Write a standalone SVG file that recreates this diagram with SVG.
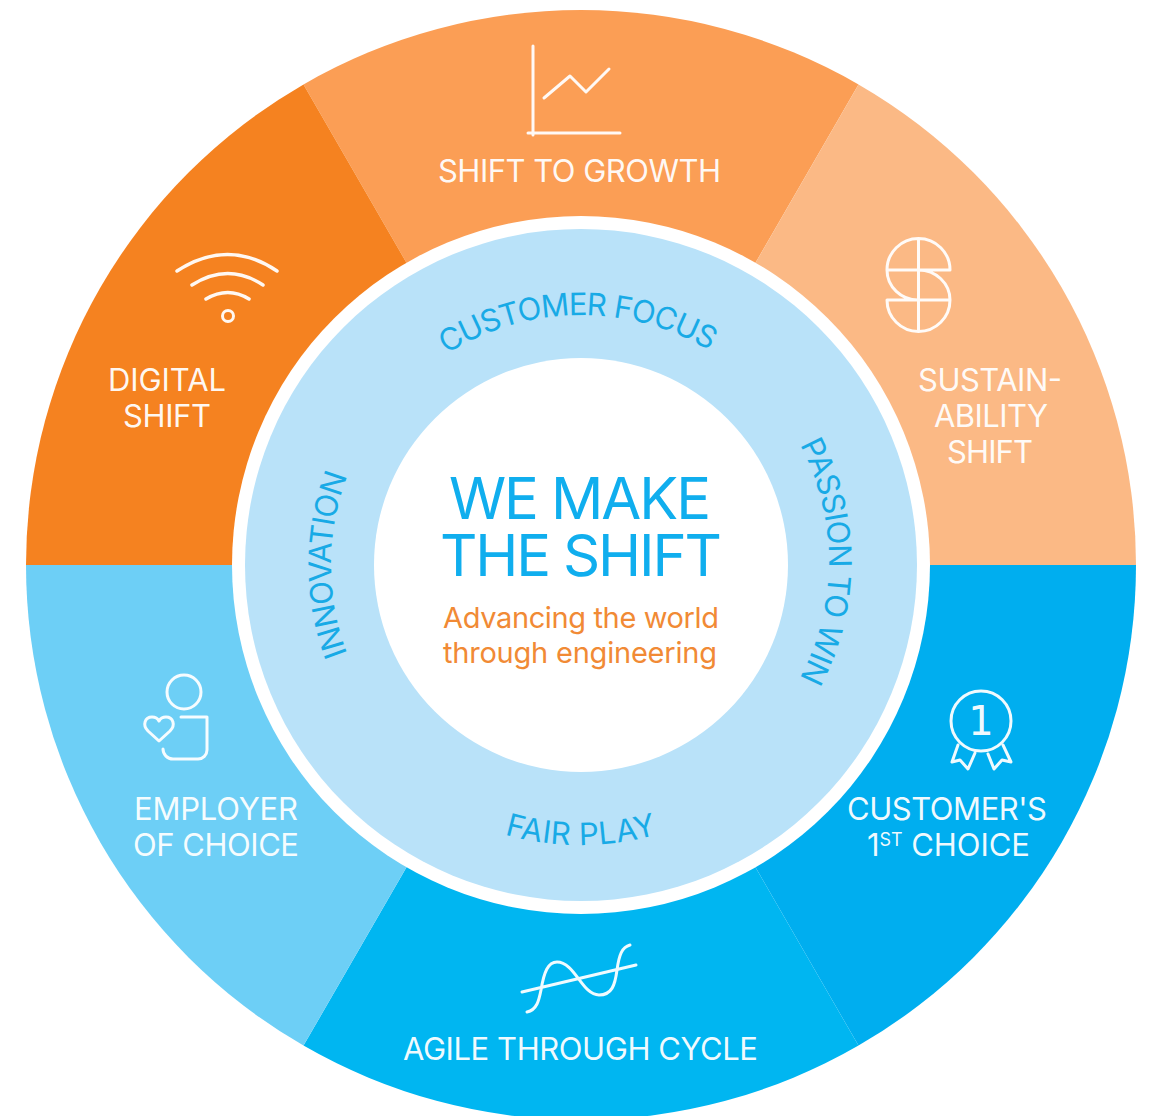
<svg xmlns="http://www.w3.org/2000/svg" width="1149" height="1116" viewBox="0 0 1149 1116">
<style>
text{font-family:"Inter","Liberation Sans",sans-serif;font-weight:400;text-anchor:middle}
.l{font-size:31px;fill:#fff;fill-opacity:.94}
.r{font-size:31px;fill:#18aae6}
.h{font-size:58px;fill:#10aeee}
.o{font-size:29px;fill:#f18a35}
.i{fill:none;stroke:#fff;stroke-opacity:.94;stroke-width:3;stroke-linecap:round;stroke-linejoin:round}
</style>
<defs>
<path id="top" d="M331,565A250,250 0 0 1 831,565"/>
<path id="right" d="M581,313A248,248 0 0 1 581,809"/>
<path id="left" d="M581,815A250,250 0 0 1 581,315"/>
<path id="bot" d="M301,565A280,280 0 0 0 861,565"/>
</defs>
<rect width="1149" height="1116" fill="#fff"/>
<g id="shift-to-growth">
<path d="M581,565L303.5,84.4A555,555 0 0 1 858.5,84.4Z" fill="#fb9e55"/>
<path class="i" d="M533,46V135M528,133H620M544,98L570,76L586,92L609,69"/>
<text class="l" x="579.5" y="182" textLength="283">SHIFT TO GROWTH</text>
</g>
<g id="sustainability-shift">
<path d="M581,565L858.5,84.4A555,555 0 0 1 1136,565Z" fill="#fbb985"/>
<path class="i" d="M887,270A31.500,31.500 0 0 1 950,270ZM887,300H950A31.500,31.500 0 0 1 887,300ZM918.500,239V331M887,270A31,30 0 0 0 918.500,300M918.500,270A31.500,30 0 0 1 950,300"/>
<text class="l" x="990" y="391" textLength="144">SUSTAIN-</text>
<text class="l" x="991" y="427" textLength="114">ABILITY</text>
<text class="l" x="990" y="463" textLength="86">SHIFT</text>
</g>
<g id="customers-first-choice">
<path d="M581,565H1136A555,555 0 0 1 858.500,1045.600Z" fill="#00aeef"/>
<circle class="i" cx="981" cy="721" r="30"/>
<path class="i" d="M958,745L952,762L960,760L968,769L975,753M988,754L994,769L1002,760L1011,762L1003,745"/>
<text x="981" y="735" style="font-family:'DejaVu Sans',sans-serif;font-weight:400;font-size:40px;fill:#fff;fill-opacity:.94">1</text>
<text class="l" x="947" y="820" textLength="200">CUSTOMER'S</text>
<text class="l" x="948.500" y="856" textLength="163">1<tspan dy="-10" style="font-size:18px">ST</tspan><tspan dy="10"> CHOICE</tspan></text>
</g>
<g id="agile-through-cycle">
<path d="M581,565L858.500,1045.600A555,555 0 0 1 303.500,1045.600Z" fill="#00b6f1"/>
<path class="i" d="M522,992L636,965M527,1012C537,1010 539,1000 541,990C544,972 548,962 557,962C575,962 582,995 599,995C612,995 615,985 617,970C619,955 622,947 630,945"/>
<text class="l" x="580.500" y="1060" textLength="355">AGILE THROUGH CYCLE</text>
</g>
<g id="employer-of-choice">
<path d="M581,565L303.500,1045.600A555,555 0 0 1 26,565Z" fill="#6dcff6"/>
<circle class="i" cx="184" cy="692" r="17"/>
<path class="i" d="M159,741L148,731C142,725 145,717 152,717C155,717 158,719 159,721C160,719 163,717 166,717C173,717 176,725 170,731Z"/>
<path class="i" d="M181,717H207V750A9,9 0 0 1 198,759H173A10,10 0 0 1 163,749"/>
<text class="l" x="216" y="820" textLength="164">EMPLOYER</text>
<text class="l" x="216" y="856" textLength="166">OF CHOICE</text>
</g>
<g id="digital-shift">
<path d="M581,565H26A555,555 0 0 1 303.500,84.400Z" fill="#f58220"/>
<path class="i" style="stroke-width:3.500" d="M177,271Q228,238 277,271M192,285Q228,262 263,285M206,299Q228,286 249,299"/>
<circle class="i" cx="228" cy="316" r="5.500"/>
<text class="l" x="167" y="391" textLength="118">DIGITAL</text>
<text class="l" x="167" y="427" textLength="88">SHIFT</text>
</g>
<g id="values-ring">
<circle cx="581" cy="565" r="349" fill="#fff"/>
<circle cx="581" cy="565" r="336" fill="#b9e2f9"/>
<circle cx="581" cy="565" r="207" fill="#fff"/>
<text class="r" style="letter-spacing:-1.100px"><textPath href="#top" startOffset="49.500%">CUSTOMER FOCUS</textPath></text>
<text class="r" style="letter-spacing:-1px"><textPath href="#right" startOffset="50%">PASSION TO WIN</textPath></text>
<text class="r" style="letter-spacing:-1px"><textPath href="#left" startOffset="50%">INNOVATION</textPath></text>
<text class="r" style="letter-spacing:.4px"><textPath href="#bot" startOffset="50%">FAIR PLAY</textPath></text>
</g>
<g id="centre">
<text class="h" x="580" y="519" textLength="262">WE MAKE</text>
<text class="h" x="581" y="576" textLength="282">THE SHIFT</text>
<text class="o" x="581" y="628" textLength="276">Advancing the world</text>
<text class="o" x="580" y="663" textLength="274">through engineering</text>
</g>
</svg>
